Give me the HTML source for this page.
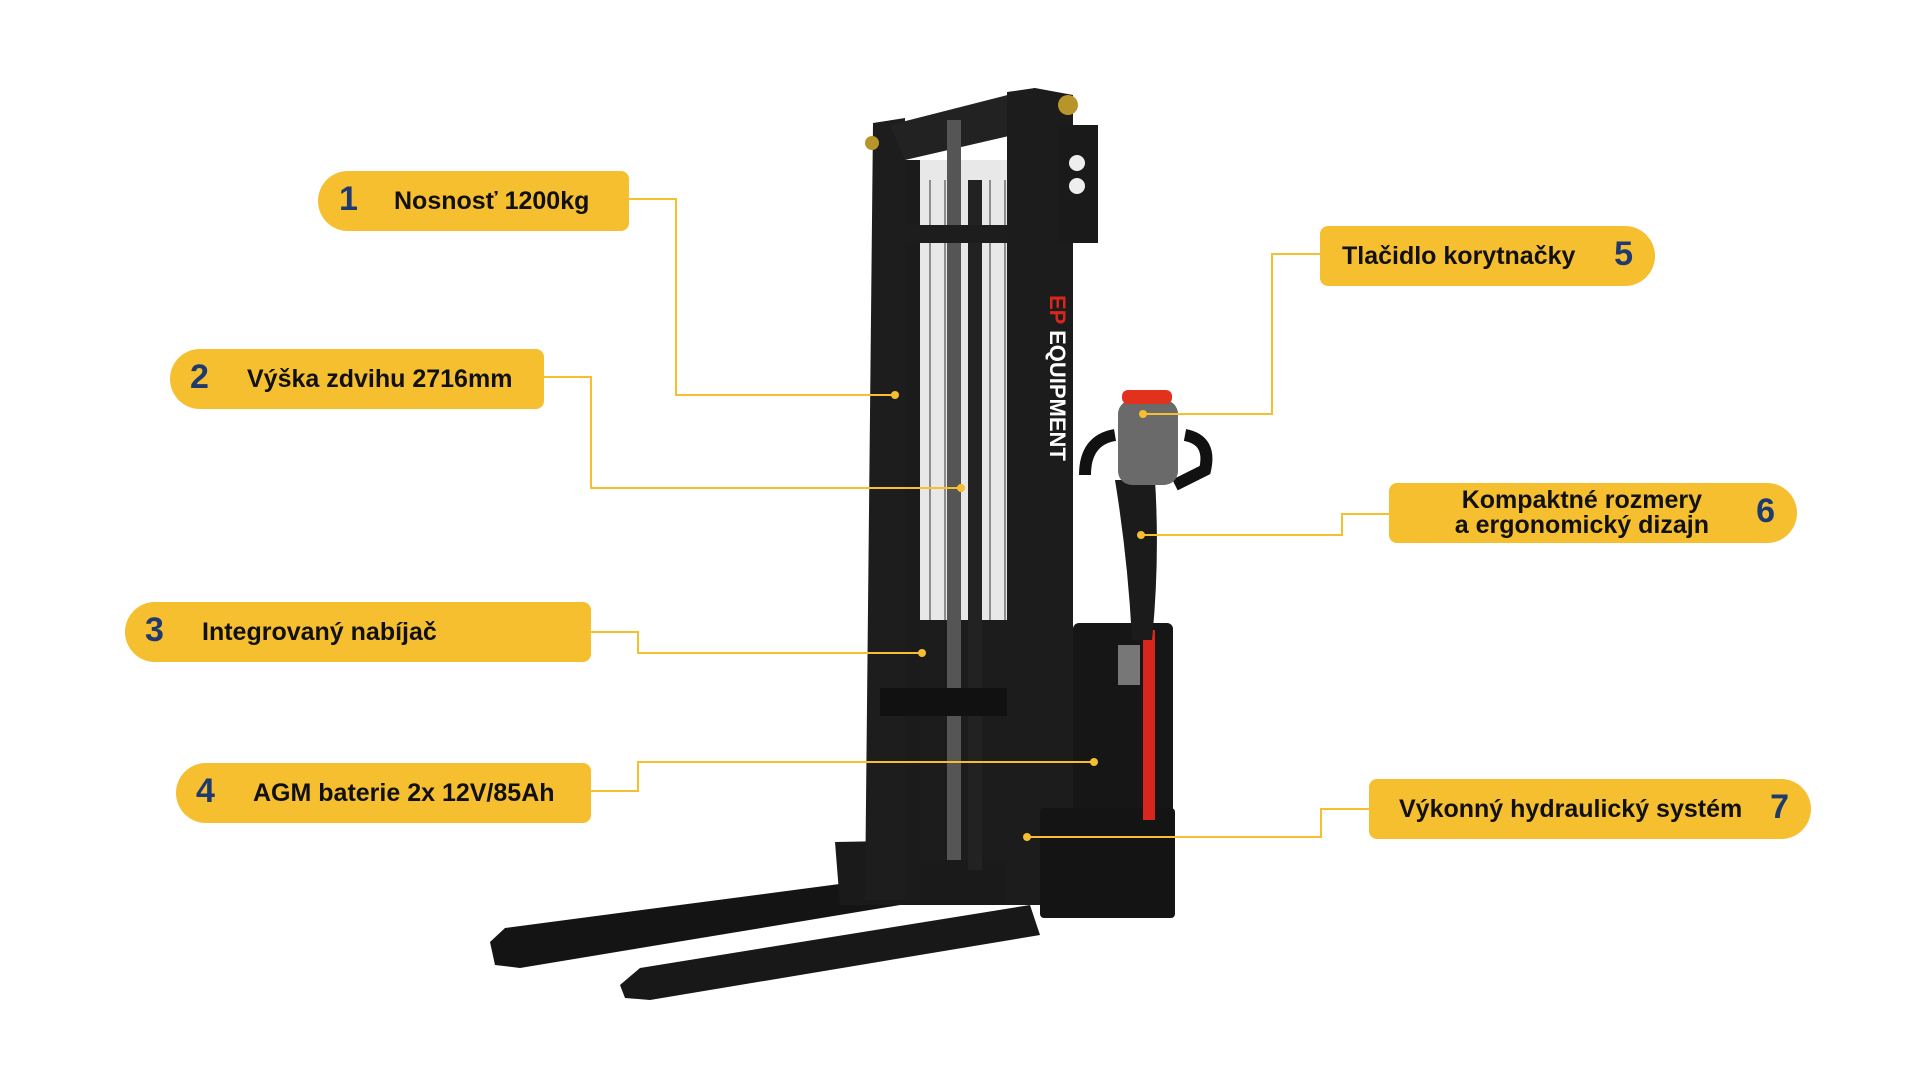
<!DOCTYPE html>
<html><head><meta charset="utf-8"><style>
body{margin:0;width:1920px;height:1080px;background:#fff;position:relative;overflow:hidden;font-family:"Liberation Sans",sans-serif}
.l{position:absolute;background:#f6bf30;border-radius:30px 8px 8px 30px;height:60px;display:flex;align-items:center;font-weight:bold;font-size:25px;color:#111}
.r{border-radius:8px 30px 30px 8px}
.n{color:#1f3a6e;font-size:34px;font-weight:bold;position:absolute;top:9px}
svg{position:absolute;left:0;top:0}
</style></head><body>
<svg width="1920" height="1080">
<!-- forks -->
<polygon points="490,942 505,928 870,880 900,905 520,968 495,965" fill="#141414"/>
<polygon points="620,985 640,968 1030,905 1040,935 650,1000 625,998" fill="#181818"/>
<polygon points="835,842 1045,838 1050,905 840,905" fill="#1a1a1a"/>
<!-- mast -->
<polygon points="873,123 905,118 905,900 865,900" fill="#1d1d1d"/>
<polygon points="890,125 1035,88 1035,130 905,160" fill="#222"/>
<rect x="905" y="160" width="115" height="700" fill="#1c1c1c"/>
<rect x="905" y="160" width="115" height="460" fill="#e8e8e8"/>
<g stroke="#333" stroke-width="1">
<line x1="930" y1="180" x2="930" y2="620"/><line x1="945" y1="180" x2="945" y2="620"/><line x1="960" y1="180" x2="960" y2="620"/><line x1="990" y1="180" x2="990" y2="620"/><line x1="1005" y1="180" x2="1005" y2="620"/>
</g>
<rect x="905" y="160" width="15" height="740" fill="#1b1b1b"/>
<rect x="947" y="120" width="14" height="740" fill="#555"/>
<rect x="968" y="180" width="14" height="690" fill="#222"/>
<rect x="905" y="225" width="110" height="18" fill="#1d1d1d"/>
<rect x="880" y="688" width="135" height="28" fill="#111"/>
<polygon points="1007,92 1035,88 1073,95 1073,905 1007,905" fill="#1c1c1c"/>
<rect x="1058" y="125" width="40" height="118" fill="#1a1a1a"/>
<circle cx="1077" cy="163" r="8" fill="#eee"/><circle cx="1077" cy="186" r="8" fill="#eee"/>
<circle cx="1068" cy="105" r="10" fill="#b8952a"/><circle cx="872" cy="143" r="7" fill="#b8952a"/>
<text x="1050" y="295" transform="rotate(90 1050 295)" font-family="Liberation Sans" font-weight="bold" font-size="22" fill="#fff"><tspan fill="#d8261c">EP</tspan> EQUIPMENT</text>
<!-- battery body -->
<rect x="1073" y="623" width="100" height="295" rx="6" fill="#161616"/>
<rect x="1040" y="808" width="135" height="110" rx="4" fill="#141414"/>
<rect x="1143" y="630" width="12" height="190" fill="#d8261c"/>
<rect x="1118" y="645" width="22" height="40" fill="#777"/>
<!-- tiller -->
<path d="M1115,480 L1155,480 Q1160,560 1152,640 L1132,640 Q1128,560 1115,480 Z" fill="#1b1b1b"/>
<path d="M1085,475 Q1085,440 1115,435 M1185,435 Q1212,440 1205,470 L1175,485" stroke="#111" stroke-width="12" fill="none"/>
<rect x="1118" y="400" width="60" height="85" rx="14" fill="#6a6a6a"/>
<rect x="1122" y="390" width="50" height="14" rx="6" fill="#e2321e"/>
<!-- connectors -->
<g stroke="#f6bf30" stroke-width="2" fill="none">
<polyline points="629,199 676,199 676,395 895,395"/>
<polyline points="544,377 591,377 591,488 961,488"/>
<polyline points="591,632 638,632 638,653 922,653"/>
<polyline points="591,791 638,791 638,762 1094,762"/>
<polyline points="1320,254 1272,254 1272,414 1143,414"/>
<polyline points="1389,514 1342,514 1342,535 1141,535"/>
<polyline points="1369,809 1321,809 1321,837 1027,837"/>
</g>
<g fill="#f6bf30">
<circle cx="895" cy="395" r="4"/><circle cx="961" cy="488" r="4"/><circle cx="922" cy="653" r="4"/><circle cx="1094" cy="762" r="4"/><circle cx="1143" cy="414" r="4"/><circle cx="1141" cy="535" r="4"/><circle cx="1027" cy="837" r="4"/>
</g>
</svg>
<div class="l" style="left:318px;top:171px;width:311px"><span class="n" style="left:21px">1</span><span style="position:absolute;left:76px">Nosnosť 1200kg</span></div>
<div class="l" style="left:170px;top:349px;width:374px"><span class="n" style="left:20px">2</span><span style="position:absolute;left:77px">Výška zdvihu 2716mm</span></div>
<div class="l" style="left:125px;top:602px;width:466px"><span class="n" style="left:20px">3</span><span style="position:absolute;left:77px">Integrovaný nabíjač</span></div>
<div class="l" style="left:176px;top:763px;width:415px"><span class="n" style="left:20px">4</span><span style="position:absolute;left:77px">AGM baterie 2x 12V/85Ah</span></div>
<div class="l r" style="left:1320px;top:226px;width:335px"><span style="position:absolute;left:22px">Tlačidlo korytnačky</span><span class="n" style="right:22px">5</span></div>
<div class="l r" style="left:1389px;top:483px;width:408px"><span style="position:absolute;right:88px;text-align:center;line-height:25px">Kompaktné rozmery<br>a ergonomický dizajn</span><span class="n" style="right:22px">6</span></div>
<div class="l r" style="left:1369px;top:779px;width:442px"><span style="position:absolute;left:30px">Výkonný hydraulický systém</span><span class="n" style="right:22px">7</span></div>
</body></html>
